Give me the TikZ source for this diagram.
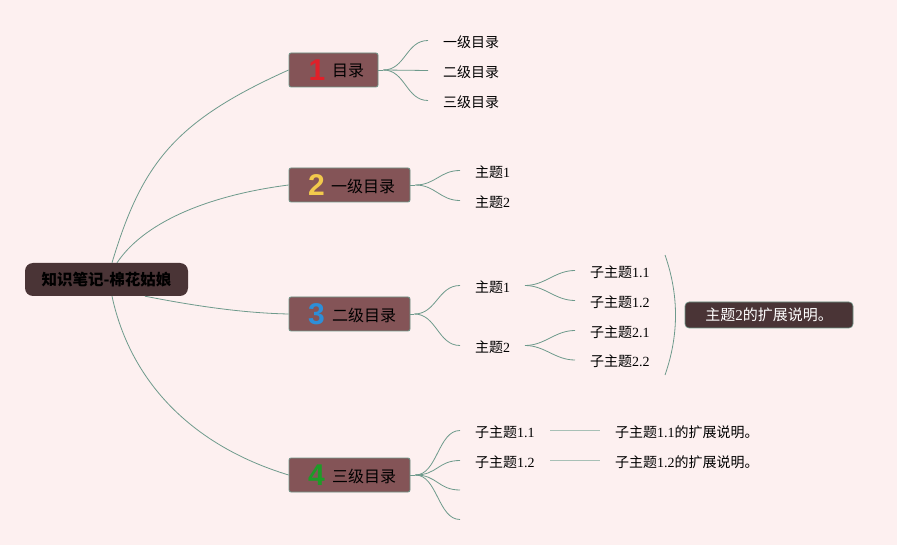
\documentclass[tikz,border=0pt]{standalone}
\usepackage{fontspec}
\setmainfont{Liberation Serif}
\newfontfamily\cjkf{Noto Sans CJK SC}
\newfontfamily\numf{Liberation Sans}
\newcommand\zhs[1]{{\cjkf #1}}
\definecolor{bgc}{HTML}{FDF0F0}
\definecolor{rootc}{HTML}{4A3436}
\definecolor{brc}{HTML}{845457}
\definecolor{brd}{HTML}{6E9688}
\definecolor{linec}{HTML}{6E9A8C}
\definecolor{stubc}{HTML}{A8C0B6}
\definecolor{n1c}{HTML}{E0202A}
\definecolor{n2c}{HTML}{F2C94C}
\definecolor{n3c}{HTML}{2D8FD8}
\definecolor{n4c}{HTML}{1E9B28}
\begin{document}
\begin{tikzpicture}[x=1pt,y=-1pt,
  conn/.style={draw=linec, line width=0.8pt},
  stub/.style={draw=stubc, line width=1.6pt},
  rootbox/.style={fill=rootc, rounded corners=8pt, minimum width=163pt, minimum height=33pt, inner sep=0pt, font=\fontsize{15.5}{18}\selectfont\cjkf\bfseries},
  brbox/.style={fill=brc, draw=brd, line width=0.8pt, rounded corners=2pt, minimum height=34pt, inner sep=0pt},
  num/.style={inner sep=0pt, font=\fontsize{30}{30}\selectfont\numf\bfseries},
  brlab/.style={anchor=west, inner sep=0pt, font=\fontsize{16}{18}\selectfont\cjkf},
  leaf/.style={anchor=west, inner sep=0pt, font=\fontsize{14}{16}\selectfont},
  callout/.style={fill=rootc, draw=brd, line width=0.6pt, rounded corners=4pt, minimum width=168pt, minimum height=26pt, inner sep=0pt, text=white, font=\fontsize{15}{17}\selectfont}
]
\path[fill=bgc] (0,0) rectangle (897,545);

% root
\node[rootbox] (root) at (106.5,279.5) {知识笔记-棉花姑娘};

% branch boxes
\node[brbox, minimum width=89pt] (b1) at (333.5,70) {};
\node[brbox, minimum width=121pt] (b2) at (349.5,185) {};
\node[brbox, minimum width=121pt] (b3) at (349.5,314) {};
\node[brbox, minimum width=121pt] (b4) at (349.5,475) {};

\node[num, text=n1c] (d1) at (317,70) {1};
\node[num, text=n2c] (d2) at (316.5,185) {2};
\node[num, text=n3c] (d3) at (316.5,314) {3};
\node[num, text=n4c] (d4) at (316.5,475) {4};

\node[brlab] (t1) at (332,71) {目录};
\node[brlab] (t2) at (331,186) {一级目录};
\node[brlab] (t3) at (332,315) {二级目录};
\node[brlab] (t4) at (332,476) {三级目录};

% root connectors
\draw[conn] ([xshift=5.5pt]root.north) .. controls (142,163) and (175,121) .. (b1.west);
\draw[conn] ([xshift=10.5pt]root.north) .. controls (147,218) and (218,194) .. (b2.west);
\draw[conn] ([xshift=38.5pt]root.south) .. controls (190,305) and (240,313) .. (b3.west);
\draw[conn] ([xshift=5.5pt]root.south) .. controls (130,380) and (190,445) .. (b4.west);

% branch 1 leaves
\node[leaf] (l11) at (443,42) {\zhs{一级目录}};
\node[leaf] (l12) at (443,72) {\zhs{二级目录}};
\node[leaf] (l13) at (443,102) {\zhs{三级目录}};
\draw[conn] (b1.east) -- ++(5,0) coordinate (j1);
\foreach \l in {l11,l12,l13}
  \draw[conn] (j1) .. controls +(22,0) and +(-22,0) .. ([xshift=-15pt,yshift=1.5pt]\l.west);

% branch 2 leaves
\node[leaf] (l21) at (475,172) {\zhs{主题}1};
\node[leaf] (l22) at (475,202) {\zhs{主题}2};
\draw[conn] (b2.east) -- ++(5,0) coordinate (j2);
\foreach \l in {l21,l22}
  \draw[conn] (j2) .. controls +(20,0) and +(-20,0) .. ([xshift=-15pt,yshift=1.5pt]\l.west);

% branch 3 leaves
\node[leaf] (l31) at (475,287) {\zhs{主题}1};
\node[leaf] (l32) at (475,347) {\zhs{主题}2};
\draw[conn] (b3.east) -- ++(4,0) coordinate (j3);
\foreach \l in {l31,l32}
  \draw[conn] (j3) .. controls +(22,0) and +(-22,0) .. ([xshift=-15pt,yshift=1.5pt]\l.west);

\node[leaf] (s11) at (590,272) {\zhs{子主题}1.1};
\node[leaf] (s12) at (590,302) {\zhs{子主题}1.2};
\node[leaf] (s21) at (590,332) {\zhs{子主题}2.1};
\node[leaf] (s22) at (590,361.5) {\zhs{子主题}2.2};
\coordinate (j31) at (525,285.5);
\coordinate (j32) at (525,345.5);
\draw[conn] ([xshift=15pt,yshift=1.5pt]l31.east) -- (j31);
\draw[conn] ([xshift=15pt,yshift=1.5pt]l32.east) -- (j32);
\foreach \l in {s11,s12}
  \draw[conn] (j31) .. controls +(20,0) and +(-20,0) .. ([xshift=-15pt,yshift=1.5pt]\l.west);
\foreach \l in {s21,s22}
  \draw[conn] (j32) .. controls +(20,0) and +(-20,0) .. ([xshift=-15pt,yshift=1.5pt]\l.west);

% bracket and callout
\coordinate (bra) at (665,255);
\coordinate (brb) at (665,375);
\draw[conn] (bra) .. controls (679,295) and (679,335) .. (brb);
\node[callout] (co) at (769,315) {\zhs{主题}2\zhs{的扩展说明。}};

% branch 4 leaves
\node[leaf] (l41) at (475,432) {\zhs{子主题}1.1};
\node[leaf] (l42) at (475,462) {\zhs{子主题}1.2};
\coordinate (l43) at (460,490);
\coordinate (l44) at (460,519.5);
\draw[conn] (b4.east) -- ++(5,0) coordinate (j4);
\foreach \l in {l41,l42}
  \draw[conn] (j4) .. controls +(22,0) and +(-22,0) .. ([xshift=-15pt,yshift=1.5pt]\l.west);
\foreach \l in {l43,l44}
  \draw[conn] (j4) .. controls +(22,0) and +(-22,0) .. (\l);

\node[leaf] (e1) at (615,432) {\zhs{子主题}1.1\zhs{的扩展说明。}};
\node[leaf] (e2) at (615,462) {\zhs{子主题}1.2\zhs{的扩展说明。}};
\draw[stub] ([xshift=-65pt,yshift=1.5pt]e1.west) -- ([xshift=-15pt,yshift=1.5pt]e1.west);
\draw[stub] ([xshift=-65pt,yshift=1.5pt]e2.west) -- ([xshift=-15pt,yshift=1.5pt]e2.west);
\end{tikzpicture}
\end{document}
